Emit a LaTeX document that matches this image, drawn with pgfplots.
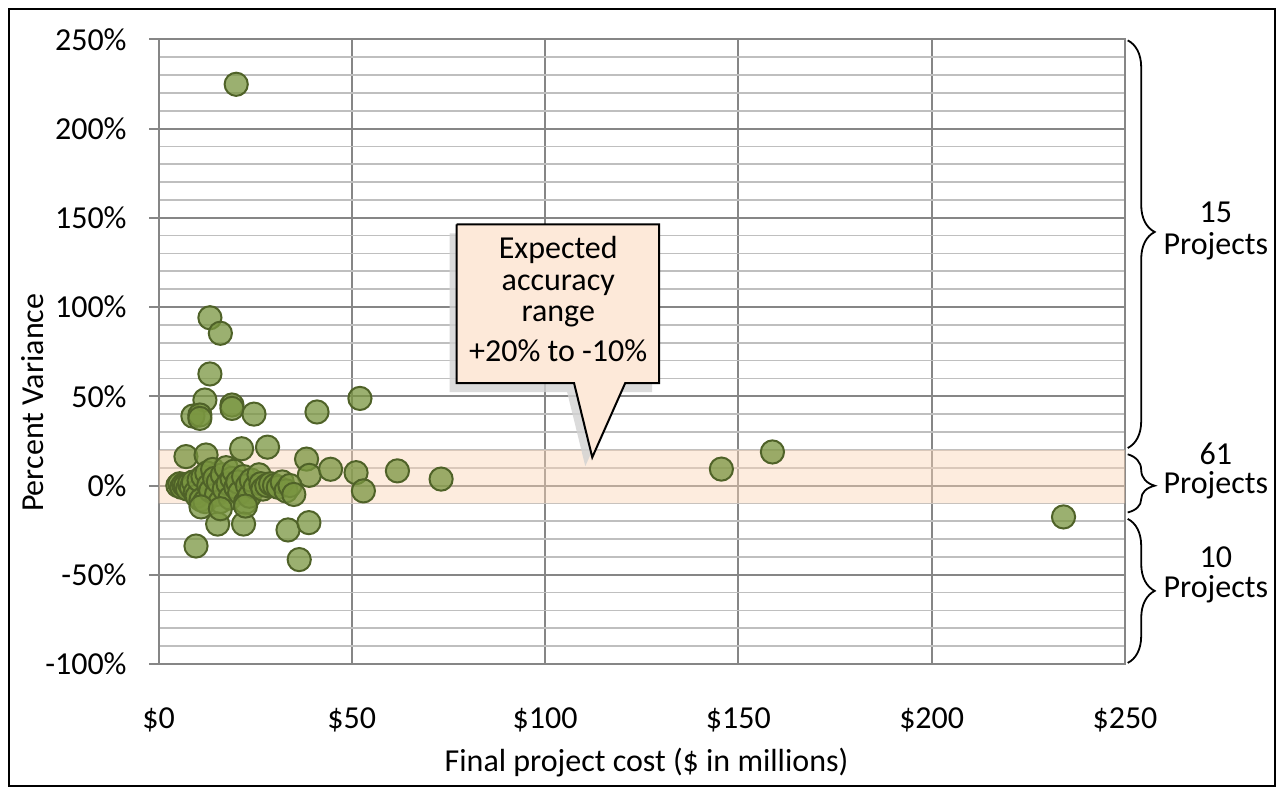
\documentclass[border=0pt]{standalone}
\usepackage{pgfplots}
\pgfplotsset{compat=1.18}
\usepackage{fontspec}
\setmainfont{Carlito}
\usetikzlibrary{decorations.pathreplacing}

\definecolor{gridmaj}{RGB}{134,134,134}
\definecolor{gridmin}{RGB}{191,191,191}
\definecolor{band}{RGB}{251,213,181}
\definecolor{callout}{RGB}{253,233,217}
\definecolor{shade}{RGB}{210,210,210}
\definecolor{ptfill}{RGB}{121,149,64}
\definecolor{ptedge}{RGB}{79,98,40}

\newcommand{\lbl}{\fontsize{16bp}{19bp}\selectfont}

\begin{document}
\begin{tikzpicture}
\path[use as bounding box] (0,0) rectangle (639bp,396bp);
\draw[line width=0.75bp] (4.5bp,3bp) rectangle (637.5bp,391.5bp);
\begin{axis}[
  at={(79.25bp,64bp)}, anchor=south west,
  width=483.25bp, height=312.35bp, scale only axis,
  clip=false,
  xmin=0, xmax=250, ymin=-100, ymax=250,
  xtick={0,50,100,150,200,250},
  xticklabels={\$0,\$50,\$100,\$150,\$200,\$250},
  ytick={-100,-50,0,50,100,150,200,250},
  yticklabels={-100\%,-50\%,0\%,50\%,100\%,150\%,200\%,250\%},
  minor ytick={-90,-80,...,240},
  grid=both,
  major grid style={gridmaj, line width=1bp},
  minor grid style={gridmin, line width=0.85bp},
  axis line style={gridmaj, line width=1bp},
  major tick length=0pt, minor tick length=0pt,
  tick label style={font=\lbl},
  yticklabel style={anchor=east, inner sep=0pt, xshift=-15.75bp},
  xticklabel style={anchor=base, inner sep=0pt, yshift=-32bp},
  xlabel={Final project cost (\$ in millions)},
  ylabel={Percent Variance},
  label style={font=\lbl},
  xlabel style={at={(axis description cs:0.505,-0.1713)}, anchor=base, inner sep=0pt},
  ylabel style={at={(axis description cs:-0.1192,0.418)}, anchor=base, inner sep=0pt},
]

% expected accuracy band, +20% to -10%
\addplot[draw=none, fill=band, fill opacity=0.45] coordinates {
  (0,-10) (250,-10) (250,20) (0,20) (0,-10)};

% y tick stubs left of the axis
\pgfplotsinvokeforeach{-100,-50,0,50,100,150,200,250}{
  \draw[gridmaj, line width=1bp] (axis cs:0,#1) -- ++(-4.5bp,0pt);
}

% callout shadow and box
\addplot[draw=none, fill=shade, fill opacity=0.8] coordinates {
  (75.3,141.3) (127.7,141.3) (127.7,52.3) (118.9,52.3) (110.4,10.8)
  (105.7,52.3) (75.3,52.3) (75.3,141.3)};
\addplot[draw=black, line width=1bp, fill=callout, line join=miter] coordinates {
  (77.1,146.3) (129.5,146.3) (129.5,57.3) (120.7,57.3) (112.2,15.8)
  (107.5,57.3) (77.1,57.3) (77.1,146.3)};
\node[anchor=base, font=\lbl] at (axis cs:103.4,127.3) {Expected};
\node[anchor=base, font=\lbl] at (axis cs:103.4,109.5) {accuracy};
\node[anchor=base, font=\lbl] at (axis cs:103.4,91.8) {range};
\node[anchor=base, font=\lbl] at (axis cs:103.4,69.4) {+20\% to -10\%};

% projects
\addplot[only marks, mark=*, mark size=5.8bp,
  mark options={fill=ptfill, fill opacity=0.75, draw=ptedge, line width=1bp}]
  coordinates {
  % above +20%
  (20.1,224.8) (13.3,94.0) (16.0,85.3) (13.3,62.5) (12.0,47.9)
  (8.9,38.9) (10.7,39.5) (10.7,37.6) (19.0,45.1) (19.0,43.2)
  (24.7,40.0) (41.0,41.2) (52.1,48.8) (21.5,20.6) (28.2,21.5)
  % within the range
  (7.1,16.2) (12.3,17.1) (38.3,14.8) (39.0,5.7) (44.5,9.1)
  (51.1,7.2) (53.0,-3.0) (61.8,8.2) (73.1,3.6) (145.6,9.2) (158.8,18.8)
  (5,0) (5.5,1) (6,-1) (6.5,0.5) (7,0) (7.5,-2) (8,1) (8.5,-1)
  (9,2) (9.5,-4) (10,-6) (10.5,3) (11,-8) (11.5,5) (12,-9) (12.5,7)
  (13,0) (13.5,-3) (14,9) (14.5,4) (15,-5) (15.5,2) (16,-9) (16.5,6)
  (17,-2) (17.5,10) (18,1) (18.5,-7) (19,4) (19.5,8) (20,-1) (20.5,2)
  (21,-4) (22,5) (22.5,-9.5) (23,0) (23.5,-6) (24,3) (25,-1) (26,6)
  (26.5,1) (27,-2) (28,0) (29,1) (30,0) (31,-1) (32,2) (33,-3)
  (34,0) (35,-5)
  % below -10%
  (9.7,-33.9) (15.3,-21.6) (22.0,-21.6) (33.5,-24.9) (38.9,-20.8)
  (36.4,-41.5) (234.1,-17.6) (11,-12) (16,-13) (22.5,-11.5)
};

% group braces
\draw[decorate, decoration={brace, amplitude=13.5bp, aspect=0.47}, line width=0.9bp]
  (axis cs:250.7,249.4) -- (axis cs:250.7,21.0);
\draw[decorate, decoration={brace, amplitude=13.5bp, aspect=0.54}, line width=0.9bp]
  (axis cs:250.7,17.5) -- (axis cs:250.7,-15.1);
\draw[decorate, decoration={brace, amplitude=13.5bp, aspect=0.5}, line width=0.9bp]
  (axis cs:250.7,-18.7) -- (axis cs:250.7,-99.4);
\node[anchor=base, font=\lbl] at (axis cs:273.5,147.1) {15};
\node[anchor=base, font=\lbl] at (axis cs:273.5,129.7) {Projects};
\node[anchor=base, font=\lbl] at (axis cs:273.5,12.0) {61};
\node[anchor=base, font=\lbl] at (axis cs:273.5,-4.2) {Projects};
\node[anchor=base, font=\lbl] at (axis cs:273.5,-46.2) {10};
\node[anchor=base, font=\lbl] at (axis cs:273.5,-62.5) {Projects};
\end{axis}
\end{tikzpicture}
\end{document}
